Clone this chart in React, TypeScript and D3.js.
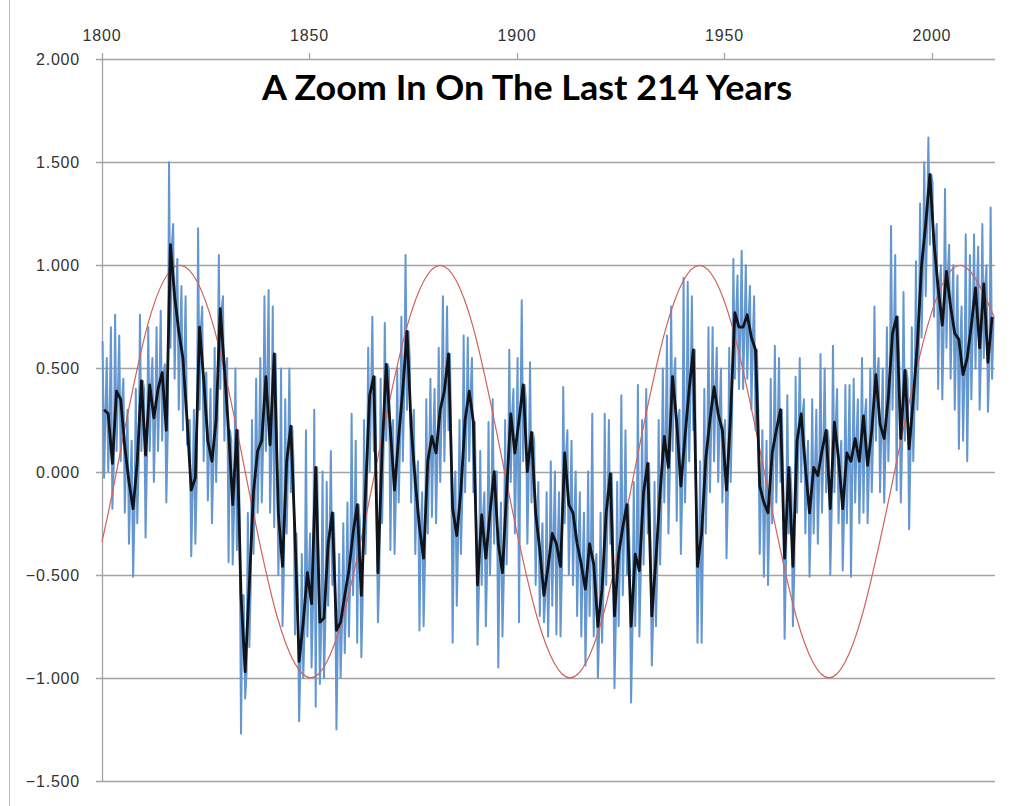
import * as d3 from "d3";
import { useRef, useEffect } from "react";

// yearly readings, 1800 .. 2014
const startYear = 1800;

// smoothed series (black)
const smoothValues = [
  0.30, 0.28, 0.04, 0.39, 0.35, 0.12, -0.05, -0.18, 0.05, 0.44,
  0.08, 0.42, 0.26, 0.40, 0.48, 0.20, 1.10, 0.85, 0.68, 0.55,
  0.25, -0.09, -0.03, 0.70, 0.45, 0.15, 0.05, 0.25, 0.79, 0.50,
  0.20, -0.16, 0.20, -0.60, -0.97, -0.55, -0.10, 0.10, 0.15, 0.46,
  0.13, 0.57, -0.20, -0.46, 0.05, 0.22, -0.30, -0.92, -0.73, -0.49,
  -0.64, 0.02, -0.73, -0.71, -0.35, -0.20, -0.77, -0.73, -0.60, -0.48,
  -0.30, -0.16, -0.60, -0.10, 0.37, 0.46, -0.49, 0.10, 0.52, 0.20,
  -0.09, 0.17, 0.40, 0.68, 0.22, -0.05, -0.27, -0.42, 0.05, 0.17,
  0.09, 0.30, 0.39, 0.57, -0.18, -0.31, -0.09, 0.25, 0.39, 0.24,
  -0.55, -0.21, -0.42, -0.20, 0.00, -0.35, -0.49, -0.10, 0.28, 0.09,
  0.25, 0.42, 0.00, 0.19, -0.20, -0.38, -0.60, -0.46, -0.30, -0.35,
  -0.46, 0.09, -0.16, -0.20, -0.35, -0.45, -0.57, -0.35, -0.45, -0.75,
  -0.57, -0.20, -0.01, -0.70, -0.40, -0.27, -0.16, -0.75, -0.40, -0.48,
  -0.10, 0.04, -0.70, -0.42, -0.10, 0.17, 0.02, 0.46, 0.24, -0.07,
  0.17, 0.40, 0.59, -0.46, -0.30, 0.06, 0.25, 0.41, 0.28, 0.20,
  -0.09, 0.28, 0.77, 0.70, 0.70, 0.76, 0.65, 0.59, -0.07, -0.15,
  -0.20, 0.09, 0.20, 0.30, -0.42, 0.02, -0.46, 0.15, 0.28, 0.02,
  -0.20, 0.02, -0.02, 0.10, 0.20, -0.18, 0.24, 0.06, -0.18, 0.09,
  0.05, 0.16, 0.05, 0.27, 0.03, 0.20, 0.47, 0.23, 0.16, 0.36,
  0.67, 0.75, 0.16, 0.49, 0.11, 0.35, 0.62, 1.00, 1.20, 1.44,
  1.11, 0.89, 0.71, 0.97, 0.80, 0.67, 0.64, 0.47, 0.55, 0.71,
  0.89, 0.60, 0.91, 0.53, 0.75,
];

// monthly series (blue): yearly high and low
const monthlyHigh = [
  0.63, 0.55, 0.70, 0.76, 0.66, 0.45, 0.30, 0.15, 0.40, 0.76,
  0.40, 0.70, 0.55, 0.70, 0.78, 0.52, 1.50, 1.20, 1.03, 0.90,
  0.85, 0.25, 0.30, 1.18, 0.80, 0.48, 0.40, 0.60, 1.05, 0.85,
  0.55, 0.15, 0.50, -0.20, -0.60, -0.20, 0.25, 0.45, 0.55, 0.85,
  0.88, 0.80, 0.15, 0.50, 0.35, 0.50, 0.05, -0.55, -0.40, 0.20,
  -0.30, 0.30, -0.40, 0.00, -0.05, 0.10, -0.45, -0.40, -0.25, -0.15,
  0.28, 0.15, -0.25, 0.25, 0.60, 0.75, -0.10, 0.45, 0.72, 0.50,
  0.25, 0.50, 0.75, 1.05, 0.55, 0.30, 0.05, -0.10, 0.35, 0.45,
  0.40, 0.60, 0.85, 0.80, 0.15, 0.00, 0.25, 0.66, 0.65, 0.55,
  -0.20, 0.10, -0.10, 0.24, 0.35, 0.00, -0.15, 0.25, 0.59, 0.40,
  0.55, 0.83, 0.35, 0.53, 0.15, -0.05, -0.25, -0.10, 0.05, 0.00,
  -0.10, 0.41, 0.20, 0.15, 0.00, -0.10, -0.20, 0.00, 0.28, -0.40,
  -0.20, 0.28, 0.25, -0.35, -0.05, 0.37, 0.20, -0.40, -0.05, 0.42,
  0.25, 0.40, -0.35, -0.05, 0.25, 0.50, 0.66, 0.80, 0.55, 0.30,
  0.94, 0.92, 0.85, -0.10, 0.05, 0.40, 0.70, 0.70, 0.60, 0.50,
  0.25, 0.60, 1.03, 0.95, 1.07, 1.00, 0.90, 0.85, 0.30, 0.20,
  0.15, 0.45, 0.61, 0.55, -0.05, 0.37, -0.10, 0.46, 0.55, 0.35,
  0.15, 0.35, 0.30, 0.57, 0.50, 0.15, 0.61, 0.40, 0.15, 0.42,
  0.42, 0.45, 0.35, 0.55, 0.35, 0.50, 0.80, 0.55, 0.50, 0.70,
  1.19, 1.05, 0.50, 0.87, 0.45, 0.70, 1.02, 1.30, 1.50, 1.62,
  1.40, 1.20, 1.00, 1.37, 1.10, 1.00, 0.95, 0.80, 1.15, 1.05,
  1.15, 1.09, 1.20, 1.00, 1.28,
];

const monthlyLow = [
  -0.03, 0.00, -0.18, 0.10, 0.05, -0.20, -0.35, -0.51, -0.25, 0.10,
  -0.32, 0.10, -0.05, 0.10, 0.15, -0.15, 0.60, 0.45, 0.30, 0.20,
  0.13, -0.41, -0.35, 0.30, 0.05, -0.14, -0.25, -0.05, 0.40, 0.15,
  -0.44, -0.45, -0.38, -1.27, -1.10, -0.85, -0.40, -0.20, -0.15, 0.10,
  -0.20, -0.27, -0.50, -0.75, -0.30, -0.10, -0.79, -1.21, -1.00, -0.80,
  -0.95, -1.14, -1.03, -1.00, -0.65, -0.55, -1.25, -1.00, -0.88, -0.80,
  -0.60, -0.83, -0.90, -0.40, 0.00, 0.10, -0.73, -0.25, 0.15, -0.38,
  -0.40, -0.15, 0.05, 0.30, -0.15, -0.40, -0.77, -0.75, -0.30, -0.22,
  -0.25, -0.05, 0.05, 0.20, -0.83, -0.65, -0.40, -0.10, 0.05, -0.10,
  -0.84, -0.55, -0.75, -0.50, -0.35, -0.95, -0.80, -0.45, -0.05, -0.30,
  -0.73, 0.05, -0.35, -0.15, -0.55, -0.70, -0.73, -0.80, -0.65, -0.79,
  -0.80, -0.25, -0.50, -0.55, -0.70, -0.80, -0.94, -0.70, -0.80, -1.00,
  -0.83, -0.55, -0.35, -1.05, -0.75, -0.60, -0.50, -1.12, -0.75, -0.80,
  -0.45, -0.30, -0.94, -0.75, -0.45, -0.15, -0.30, 0.10, -0.24, -0.40,
  -0.15, 0.05, 0.20, -0.83, -0.83, -0.30, -0.10, 0.05, -0.05, -0.15,
  -0.42, -0.05, 0.45, 0.40, 0.40, 0.45, 0.30, 0.20, -0.40, -0.51,
  -0.55, -0.25, -0.15, -0.05, -0.81, -0.30, -0.75, -0.20, -0.05, -0.30,
  -0.51, -0.30, -0.35, -0.20, -0.10, -0.50, -0.10, -0.25, -0.48, -0.25,
  -0.51, -0.15, -0.25, -0.20, -0.25, -0.10, 0.15, -0.10, -0.15, 0.05,
  0.30, -0.09, -0.15, 0.15, -0.28, 0.05, 0.30, 0.65, 0.85, 1.10,
  0.75, 0.40, 0.35, 0.60, 0.45, 0.30, 0.11, 0.15, 0.05, 0.35,
  0.50, 0.30, 0.55, 0.29, 0.45,
];

// the red cycle, read at its peaks, troughs and crossings
const cycleYears = [
  1800, 1803.5, 1811, 1819, 1826.8, 1834.5, 1842.3, 1850.3, 1858, 1865.8,
  1873.6, 1881.5, 1889.3, 1897, 1904.9, 1912.8, 1920.6, 1928.3, 1936.1, 1944,
  1951.8, 1959.6, 1967.4, 1975.2, 1983, 1991, 1999, 2007, 2015,
];
const cycleValues = [
  -0.34, 0, 0.71, 1, 0.71, 0, -0.71, -1, -0.71, 0,
  0.71, 1, 0.71, 0, -0.71, -1, -0.71, 0, 0.71, 1,
  0.71, 0, -0.71, -1, -0.71, 0, 0.71, 1, 0.75,
];

const yearTicks = [1800, 1850, 1900, 1950, 2000];
const valueTicks = [2, 1.5, 1, 0.5, 0, -0.5, -1, -1.5];
const title = "A Zoom In On The Last 214 Years";

const App = () => {
  const chartRef = useRef(null);

  const width = 1032;
  const height = 806;
  const margin = { top: 59, left: 102, right: 37, bottom: 25 };

  useEffect(() => {
    const svg = d3.select(chartRef.current);
    svg.selectAll("*").remove();

    const x = d3.scaleLinear()
      .domain([1800, 2015.2])
      .range([margin.left, width - margin.right]);
    const y = d3.scaleLinear()
      .domain([-1.5, 2])
      .range([height - margin.bottom, margin.top]);

    const gridColor = "#a3a3a3";
    const labelFont = "'Liberation Sans', Arial, sans-serif";

    // outer border on the left
    svg.append("line")
      .attr("x1", 9.5).attr("x2", 9.5)
      .attr("y1", 0).attr("y2", height)
      .attr("stroke", "#b8b8b8");

    // horizontal gridlines
    svg.append("g")
      .selectAll("line")
      .data(valueTicks)
      .join("line")
      .attr("x1", margin.left - 6)
      .attr("x2", x(2015.2))
      .attr("y1", d => Math.round(y(d)) + 0.5)
      .attr("y2", d => Math.round(y(d)) + 0.5)
      .attr("stroke", gridColor)
      .attr("stroke-width", 1.3);

    // left axis line
    svg.append("line")
      .attr("x1", margin.left + 0.5).attr("x2", margin.left + 0.5)
      .attr("y1", y(2)).attr("y2", y(-1.5))
      .attr("stroke", gridColor)
      .attr("stroke-width", 1.3);

    // top axis ticks
    svg.append("g")
      .selectAll("line")
      .data(yearTicks)
      .join("line")
      .attr("x1", d => Math.round(x(d)) + 0.5)
      .attr("x2", d => Math.round(x(d)) + 0.5)
      .attr("y1", y(2) - 6)
      .attr("y2", y(2))
      .attr("stroke", gridColor)
      .attr("stroke-width", 1.3);

    svg.append("g")
      .selectAll("text")
      .data(yearTicks)
      .join("text")
      .attr("x", d => x(d))
      .attr("y", 41)
      .attr("text-anchor", "middle")
      .attr("font-family", labelFont)
      .attr("font-size", 16)
      .attr("letter-spacing", 0.8)
      .attr("fill", "#333")
      .text(d => d);

    svg.append("g")
      .selectAll("text")
      .data(valueTicks)
      .join("text")
      .attr("x", 80)
      .attr("y", d => y(d) + 6)
      .attr("text-anchor", "end")
      .attr("font-family", labelFont)
      .attr("font-size", 16)
      .attr("letter-spacing", 0.8)
      .attr("fill", "#333")
      .text(d => d3.format(".3f")(d));

    // monthly series: each year swings high -> low -> back to the smoothed level
    const monthly = [];
    monthlyHigh.forEach((h, i) => {
      monthly.push([startYear + i + 0.15, h]);
      monthly.push([startYear + i + 0.5, monthlyLow[i]]);
      monthly.push([startYear + i + 0.85, smoothValues[i]]);
    });
    const line = d3.line()
      .x(d => x(d[0]))
      .y(d => y(d[1]));

    svg.append("path")
      .datum(monthly)
      .attr("d", line)
      .attr("fill", "none")
      .attr("stroke", "#6497d0")
      .attr("stroke-width", 2)
      .attr("stroke-linejoin", "round");

    const cycle = cycleYears.map((yr, i) => [yr, cycleValues[i]]);
    svg.append("path")
      .datum(cycle)
      .attr("d", line.curve(d3.curveNatural))
      .attr("fill", "none")
      .attr("stroke", "#d2625c")
      .attr("stroke-width", 1.2);

    const smooth = smoothValues.map((v, i) => [startYear + i + 0.5, v]);
    svg.append("path")
      .datum(smooth)
      .attr("d", d3.line().x(d => x(d[0])).y(d => y(d[1])))
      .attr("fill", "none")
      .attr("stroke", "#10131a")
      .attr("stroke-width", 2.8)
      .attr("stroke-linejoin", "round");

    svg.append("text")
      .attr("x", 527)
      .attr("y", 100)
      .attr("text-anchor", "middle")
      .attr("font-family", "Lato, 'Liberation Sans', sans-serif")
      .attr("font-weight", "bold")
      .attr("font-size", 34)
      .attr("textLength", 530)
      .attr("lengthAdjust", "spacingAndGlyphs")
      .attr("fill", "#000")
      .text(title);
  }, []);

  return (
    <svg
      ref={chartRef}
      width={width}
      height={height}
      style={{ position: "absolute", left: 0, top: 0, background: "#fff" }}
    />
  );
};

export default App;
